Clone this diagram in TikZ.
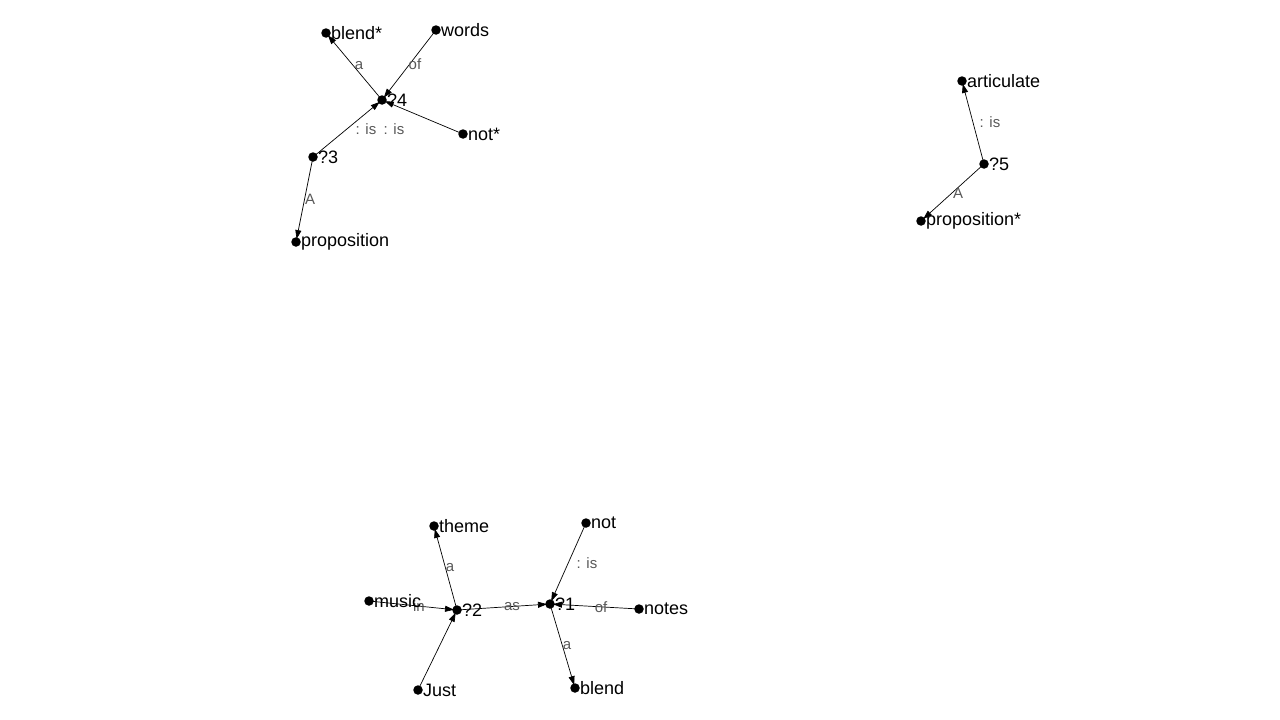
\documentclass[tikz,border=0pt]{standalone}
\usepackage{fontspec}
\setmainfont{Liberation Sans}
\usetikzlibrary{arrows.meta}
\tikzset{
  dot/.style={circle,fill=black,inner sep=0pt,minimum size=9.5pt},
  lbl/.style={anchor=west,inner sep=0pt,font=\fontsize{18}{21}\selectfont},
  edge/.style={draw=black,line width=0.7pt,-{Triangle[length=9pt,width=6pt]},shorten >=3pt},
  elab/.style={text=black!65,inner sep=0pt,font=\fontsize{15}{17}\selectfont}
}
\begin{document}
\begin{tikzpicture}[x=1pt,y=-1pt]
\useasboundingbox[fill=white] (0,0) rectangle (1280,720);
% top-left cluster
\node[dot] (blendS) at (326,33) {};
\node[dot] (words) at (436,30) {};
\node[dot] (q4) at (382,100) {};
\node[dot] (notS) at (463,134) {};
\node[dot] (q3) at (313,157) {};
\node[dot] (prop) at (296,242) {};
% top-right cluster
\node[dot] (artic) at (962,81) {};
\node[dot] (q5) at (984,164) {};
\node[dot] (propS) at (921,221) {};
% bottom cluster
\node[dot] (theme) at (434,526) {};
\node[dot] (not) at (586,523) {};
\node[dot] (music) at (369,601) {};
\node[dot] (q2) at (457,610) {};
\node[dot] (q1) at (550,604) {};
\node[dot] (notes) at (639,609) {};
\node[dot] (just) at (418,690) {};
\node[dot] (blend) at (575,688) {};
% edges
\draw[edge] (q4.center) -- (blendS.center);
\draw[edge] (words.center) -- (q4.center);
\draw[edge] (notS.center) -- (q4.center);
\draw[edge] (q3.center) -- (q4.center);
\draw[edge] (q3.center) -- (prop.center);
\draw[edge] (q5.center) -- (artic.center);
\draw[edge] (q5.center) -- (propS.center);
\draw[edge] (q2.center) -- (theme.center);
\draw[edge] (music.center) -- (q2.center);
\draw[edge] (just.center) -- (q2.center);
\draw[edge] (q2.center) -- (q1.center);
\draw[edge] (not.center) -- (q1.center);
\draw[edge] (notes.center) -- (q1.center);
\draw[edge] (q1.center) -- (blend.center);
% edge labels
\node[elab] (l1) at (359,66) {a};
\node[elab] (l2) at (415,64) {of};
\node[elab] (l3) at (366,129) {: is};
\node[elab] (l4) at (394,129) {: is};
\node[elab] (l5) at (310,199) {A};
\node[elab] (l6) at (990,122) {: is};
\node[elab] (l7) at (958,193) {A};
\node[elab] (l8) at (450,568) {a};
\node[elab] (l9) at (419,606) {in};
\node[elab] (l10) at (512,607) {as};
\node[elab] (l11) at (587,563) {: is};
\node[elab] (l12) at (601,607) {of};
\node[elab] (l13) at (567,646) {a};
% node labels
\node[lbl] (t1) at (331,33) {blend*};
\node[lbl] (t2) at (441,30) {words};
\node[lbl] (t3) at (387,100) {?4};
\node[lbl] (t4) at (468,134) {not*};
\node[lbl] (t5) at (318,157) {?3};
\node[lbl] (t6) at (301,242) {proposition};
\node[lbl] (t7) at (967,81) {articulate};
\node[lbl] (t8) at (989,164) {?5};
\node[lbl] (t9) at (926,221) {proposition*};
\node[lbl] (t10) at (439,526) {theme};
\node[lbl] (t11) at (591,523) {not};
\node[lbl] (t12) at (374,601) {music};
\node[lbl] (t13) at (462,610) {?2};
\node[lbl] (t14) at (555,604) {?1};
\node[lbl] (t15) at (644,609) {notes};
\node[lbl] (t16) at (423,690) {Just};
\node[lbl] (t17) at (580,688) {blend};
\end{tikzpicture}
\end{document}
